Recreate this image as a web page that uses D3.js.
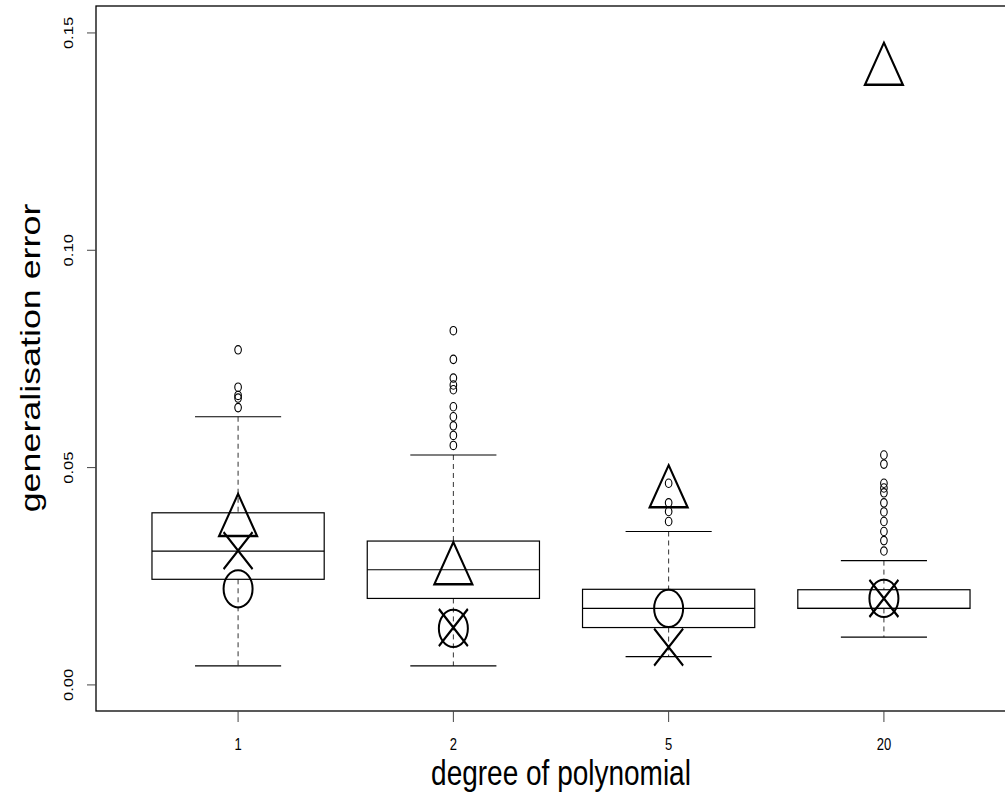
<!DOCTYPE html>
<html lang="en">
<head>
<meta charset="utf-8">
<title>generalisation error by degree</title>
<script src="https://d3js.org/d3.v7.min.js"></script>
<style>
  body { margin: 0; background: white; }
  svg { display: block; }
  text { font-family: "Liberation Sans", Arial, Helvetica, sans-serif; fill: black; }
</style>
</head>
<body>
<script>
// data
const degrees = ["1", "2", "5", "20"];
const q1 = [0.0243, 0.0199, 0.0132, 0.0176];
const medians = [0.0308, 0.0265, 0.0176, 0.0176];
const q3 = [0.0396, 0.0331, 0.0220, 0.0219];
const whiskerLow = [0.0044, 0.0044, 0.0065, 0.0110];
const whiskerHigh = [0.0617, 0.0529, 0.0353, 0.0286];
const outliers = [
  [0.0771, 0.0685, 0.0666, 0.0660, 0.0638],
  [0.0815, 0.0749, 0.0706, 0.0690, 0.0679, 0.0640, 0.0617, 0.0596, 0.0574, 0.0551],
  [0.0464, 0.0419, 0.0399, 0.0376],
  [0.0529, 0.0508, 0.0464, 0.0453, 0.0442, 0.0419, 0.0398, 0.0376, 0.0353, 0.0332, 0.0308]
];
const triangleVals = [0.0375, 0.0264, 0.0441, 0.1413];
const crossVals = [0.0309, 0.0132, 0.0087, 0.0199];
const circleVals = [0.0221, 0.0130, 0.0176, 0.0199];
const yTicks = [0, 0.05, 0.10, 0.15];

const W = 1005, H = 810;
const stretch = 1.28;   // the picture is drawn taller than wide
const plot = {left: 96, right: 1026, top: 6, bottom: 711};

var x = d3.scaleLinear().domain([0.34, 4.66]).range([plot.left, plot.right]);
var y = d3.scaleLinear().domain([-0.006, 0.1562]).range([plot.bottom, plot.top]);
var unit = x(2) - x(1);

const svg = d3.select("body").append("svg")
    .attr("width", W)
    .attr("height", H);

svg.append("rect")
    .attr("width", W).attr("height", H)
    .style("fill", "white");

// frame
svg.append("rect")
    .attr("x", plot.left).attr("y", plot.top)
    .attr("width", plot.right - plot.left)
    .attr("height", plot.bottom - plot.top)
    .attr("fill", "none")
    .attr("stroke", "black")
    .attr("stroke-width", 1.3);

// y axis
var yAxis = svg.append("g");
yAxis.selectAll("line")
    .data(yTicks)
    .enter().append("line")
    .attr("x1", plot.left - 9).attr("x2", plot.left)
    .attr("y1", d => y(d)).attr("y2", d => y(d))
    .attr("stroke", "#444");
yAxis.selectAll("text")
    .data(yTicks)
    .enter().append("text")
    .attr("transform", d => "translate(73," + y(d) + ") scale(1," + stretch + ") rotate(-90)")
    .attr("text-anchor", "middle")
    .style("font-size", "13px")
    .text(d => d3.format(".2f")(d));

// x axis
var xAxis = svg.append("g");
xAxis.selectAll("line")
    .data(degrees)
    .enter().append("line")
    .attr("x1", (d, i) => x(i + 1)).attr("x2", (d, i) => x(i + 1))
    .attr("y1", plot.bottom).attr("y2", plot.bottom + 11)
    .attr("stroke", "#444");
xAxis.selectAll("text")
    .data(degrees)
    .enter().append("text")
    .attr("transform", (d, i) => "translate(" + x(i + 1) + ",750) scale(1," + stretch + ")")
    .attr("text-anchor", "middle")
    .style("font-size", "13px")
    .text(d => d);

// axis titles
svg.append("text")
    .attr("transform", "translate(" + x(2.5) + ",785) scale(1," + stretch + ")")
    .attr("text-anchor", "middle")
    .style("font-size", "28px")
    .text("degree of polynomial");

svg.append("text")
    .attr("transform", "translate(40,358) scale(1," + stretch + ") rotate(-90)")
    .attr("text-anchor", "middle")
    .style("font-size", "28px")
    .text("generalisation error");

// boxes
var boxes = svg.selectAll(".box")
    .data(degrees)
    .enter().append("g")
    .attr("class", "box");

// dashed whiskers
boxes.append("line")
    .attr("x1", (d, i) => x(i + 1)).attr("x2", (d, i) => x(i + 1))
    .attr("y1", (d, i) => y(whiskerHigh[i])).attr("y2", (d, i) => y(q3[i]))
    .attr("stroke", "#333").attr("stroke-dasharray", "5,4");
boxes.append("line")
    .attr("x1", (d, i) => x(i + 1)).attr("x2", (d, i) => x(i + 1))
    .attr("y1", (d, i) => y(q1[i])).attr("y2", (d, i) => y(whiskerLow[i]))
    .attr("stroke", "#333").attr("stroke-dasharray", "5,4");

// whisker caps
[whiskerLow, whiskerHigh].forEach(function(arr) {
  boxes.append("line")
      .attr("x1", (d, i) => x(i + 1 - 0.2)).attr("x2", (d, i) => x(i + 1 + 0.2))
      .attr("y1", (d, i) => y(arr[i])).attr("y2", (d, i) => y(arr[i]))
      .attr("stroke", "black").attr("stroke-width", 1.2);
});

boxes.append("rect")
    .attr("x", (d, i) => x(i + 1 - 0.4))
    .attr("width", 0.8 * unit)
    .attr("y", (d, i) => y(q3[i]))
    .attr("height", (d, i) => y(q1[i]) - y(q3[i]))
    .attr("fill", "none")
    .attr("stroke", "black")
    .attr("stroke-width", 1.2);

boxes.append("line")
    .attr("x1", (d, i) => x(i + 1 - 0.4)).attr("x2", (d, i) => x(i + 1 + 0.4))
    .attr("y1", (d, i) => y(medians[i])).attr("y2", (d, i) => y(medians[i]))
    .attr("stroke", "black").attr("stroke-width", 1.2);

// outliers
outliers.forEach(function(vals, i) {
  svg.selectAll(null)
      .data(vals)
      .enter().append("ellipse")
      .attr("cx", x(i + 1))
      .attr("cy", d => y(d))
      .attr("rx", 3.3)
      .attr("ry", 3.3 * stretch)
      .attr("fill", "none")
      .attr("stroke", "black")
      .attr("stroke-width", 1.1);
});

// big markers: triangle, cross, circle
var r = 21.9;
var tri = "M0," + (-r) + "L" + (r * Math.sqrt(3) / 2) + "," + (r / 2) +
          "L" + (-r * Math.sqrt(3) / 2) + "," + (r / 2) + "Z";
var c = 14.5;
var cross = "M" + (-c) + "," + (-c) + "L" + c + "," + c + "M" + (-c) + "," + c + "L" + c + "," + (-c);

function markers(vals, path) {
  svg.selectAll(null)
      .data(vals)
      .enter().append("path")
      .attr("transform", (d, i) => "translate(" + x(i + 1) + "," + y(d) + ") scale(1," + stretch + ")")
      .attr("d", path)
      .attr("fill", "none")
      .attr("stroke", "black")
      .attr("stroke-width", 2);
}
markers(triangleVals, tri);
markers(crossVals, cross);

svg.selectAll(null)
    .data(circleVals)
    .enter().append("ellipse")
    .attr("cx", (d, i) => x(i + 1))
    .attr("cy", d => y(d))
    .attr("rx", 14.5)
    .attr("ry", 14.5 * stretch)
    .attr("fill", "none")
    .attr("stroke", "black")
    .attr("stroke-width", 2);
</script>
</body>
</html>
